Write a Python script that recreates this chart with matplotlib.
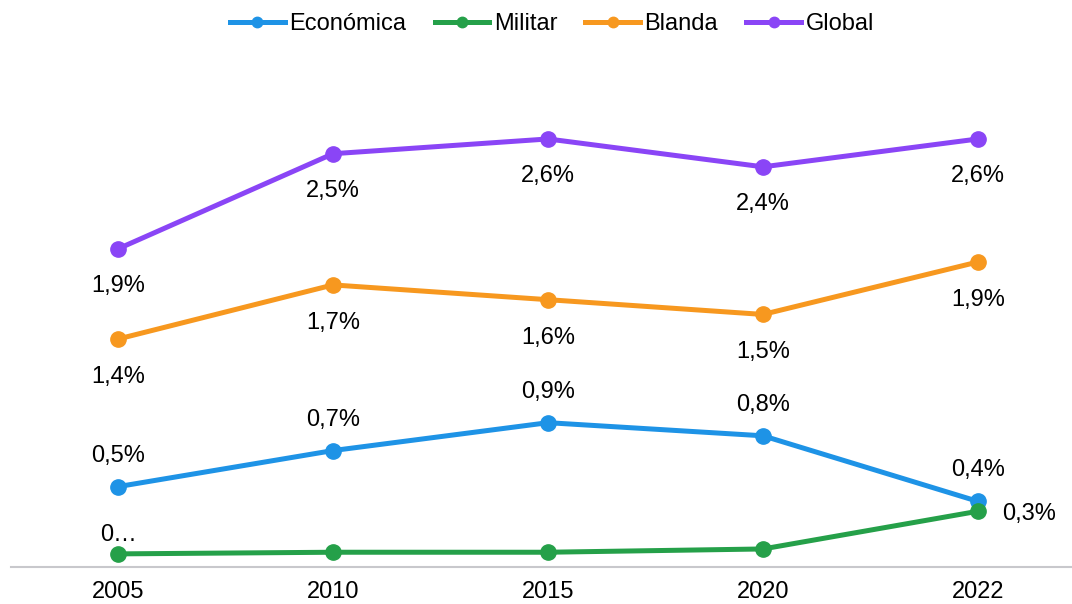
import matplotlib
matplotlib.use('Agg')
import matplotlib.pyplot as plt
import numpy as np

plt.rcParams.update({'font.family': ['Liberation Sans', 'DejaVu Sans'], 'font.size': 17})

years = ['2005', '2010', '2015', '2020', '2022']
economica = [0.49, 0.71, 0.88, 0.80, 0.40]
militar = [0.08, 0.09, 0.09, 0.11, 0.34]
blanda = [1.39, 1.72, 1.63, 1.54, 1.86]
global_ = [1.94, 2.52, 2.61, 2.44, 2.61]

series = [
    ('Económica', economica, '#1e93e6'),
    ('Militar', militar, '#25a049'),
    ('Blanda', blanda, '#f7981f'),
    ('Global', global_, '#8a45f6'),
]

def fmt(v):
    return ('%.1f%%' % v).replace('.', ',')

fig = plt.figure(figsize=(10.72, 6.04), dpi=100)
ax = fig.add_axes([10.5 / 1072, 37 / 604, 1075 / 1072, 492 / 604])
x = np.arange(len(years))

for name, vals, col in series:
    ax.plot(x, vals, color=col, lw=3.6, marker='o', markersize=11, label=name,
            solid_capstyle='round', zorder=3)

# data labels, offsets in pixels
def lab(vals, i, text, dx, dy, ha='center'):
    ax.annotate(text, (x[i], vals[i]), xytext=(dx * 0.72, dy * 0.72),
                textcoords='offset points', ha=ha, va='center', fontsize=17)

for i in range(5):
    lab(global_, i, fmt(global_[i]), 0, -37)
    lab(blanda, i, fmt(blanda[i]), 0, -38)
    lab(economica, i, fmt(economica[i]), 0, 31)
lab(militar, 0, '0…', 0, 19)
lab(militar, 4, fmt(militar[4]), 24, -3, ha='left')

ax.set_xlim(-0.5, 4.5)
ax.set_ylim(0, 3)
ax.set_xticks(x)
ax.set_xticklabels(years, fontsize=17)
ax.tick_params(axis='x', length=0, pad=10)
ax.set_yticks([])
for s in ['top', 'right', 'left']:
    ax.spines[s].set_visible(False)
ax.spines['bottom'].set_color('#c8c8cc')
ax.spines['bottom'].set_linewidth(1.5)

leg_handles = [plt.Line2D([], [], color=c, lw=3.6, marker='o', markersize=7.5) for _, _, c in series]
fig.legend(leg_handles, [n for n, _, _ in series], loc='center', bbox_to_anchor=(0.515, 0.96),
           ncol=4, frameon=False, fontsize=17, handlelength=2.3, handletextpad=0.2,
           columnspacing=1.2)

fig.savefig('out.png', dpi=100)
